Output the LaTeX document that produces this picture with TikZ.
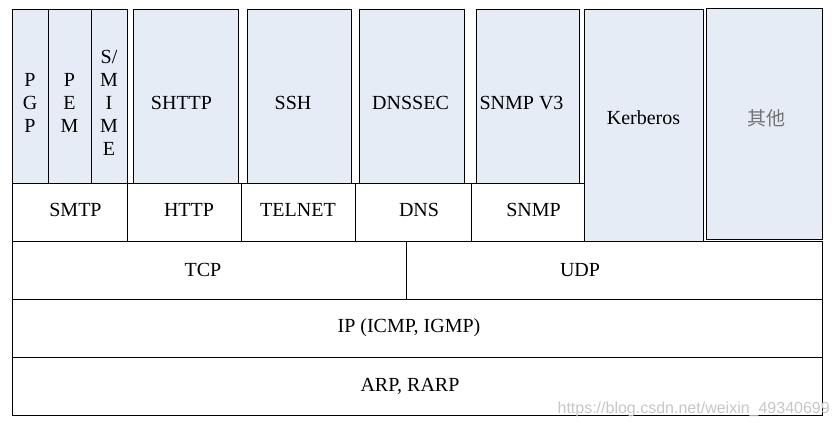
\documentclass[tikz,border=0pt]{standalone}
\usepackage{fontspec}
\setmainfont{Liberation Serif}
\newfontfamily\cjk{Noto Sans CJK SC}
\newfontfamily\wmfont{Liberation Sans}
\usepackage{xcolor}
\usepackage{tikz}
\usetikzlibrary{positioning}
\definecolor{secfill}{RGB}{230,236,246}
\newcommand{\layerfont}{\fontsize{20}{23}\selectfont}
\tikzset{
  sec/.style={
    rectangle,
    draw=black,
    fill=secfill,
    line width=0.9pt,
    inner sep=0pt,
    outer sep=0pt,
    anchor=north west,
    minimum height=174pt
  },
  layer/.style={
    rectangle,
    draw=black,
    fill=white,
    line width=0.9pt,
    inner sep=0pt,
    outer sep=0pt,
    anchor=north west,
    minimum height=58pt
  },
  txt/.style={
    font=\layerfont,
    align=center,
    inner sep=0pt
  }
}

\begin{document}
\begin{tikzpicture}[x=1pt, y=-1pt]
  \useasboundingbox (0,0) rectangle (838,427);

  % bottom layers
  \node[layer, minimum width=810pt, label={[txt, name=arp-t, xshift=-7pt]center:ARP, RARP}] (arp) at (12,357) {};
  \node[layer, minimum width=810pt, label={[txt, name=ip-t, xshift=-8pt]center:IP (ICMP, IGMP)}] (ip) at (12,299) {};
  \node[layer, minimum width=394pt, label={[txt, name=tcp-t, xshift=-6pt]center:TCP}] (tcp) at (12,241) {};
  \node[layer, minimum width=416pt, right=0pt of tcp, label={[txt, name=udp-t, xshift=-34pt]center:UDP}] (udp) {};

  % application layer
  \node[layer, minimum width=115pt, label={[txt, name=smtp-t, shift={(6pt,2pt)}]center:SMTP}] (smtp) at (12,183) {};
  \node[layer, minimum width=114pt, right=0pt of smtp, label={[txt, name=http-t, shift={(5pt,2pt)}]center:HTTP}] (http) {};
  \node[layer, minimum width=114pt, right=0pt of http, label={[txt, name=telnet-t, yshift=2pt]center:TELNET}] (telnet) {};
  \node[layer, minimum width=116pt, right=0pt of telnet, label={[txt, name=dns-t, shift={(6pt,2pt)}]center:DNS}] (dns) {};
  \node[layer, minimum width=113pt, right=0pt of dns, label={[txt, name=snmp-t, shift={(6pt,2pt)}]center:SNMP}] (snmp) {};

  % security protocols
  \node[sec, minimum width=36pt, label={[txt, name=pgp-t, yshift=-7pt]center:{P\\G\\P}}] (pgp) at (12,9) {};
  \node[sec, minimum width=43pt, right=0pt of pgp, label={[txt, name=pem-t, yshift=-7pt]center:{P\\E\\M}}] (pem) {};
  \node[sec, minimum width=36pt, right=0pt of pem, label={[txt, name=smime-t, yshift=-7pt]center:{S/\\M\\I\\M\\E}}] (smime) {};
  \node[sec, minimum width=105pt, label={[txt, name=shttp-t, shift={(-4pt,-7pt)}]center:SHTTP}] (shttp) at (133,9) {};
  \node[sec, minimum width=104pt, label={[txt, name=ssh-t, shift={(-6pt,-7pt)}]center:SSH}] (ssh) at (247,9) {};
  \node[sec, minimum width=105pt, label={[txt, name=dnssec-t, shift={(-1pt,-7pt)}]center:DNSSEC}] (dnssec) at (359,9) {};
  \node[sec, minimum width=103pt, label={[txt, name=snmpv3-t, shift={(-6pt,-7pt)}]center:SNMP V3}] (snmpv3) at (476,9) {};
  \node[sec, minimum width=119pt, minimum height=232pt, label={[txt, name=kerberos-t, yshift=7pt]center:Kerberos}] (kerberos) at (584,9) {};
  \node[sec, minimum width=116pt, minimum height=231pt, label={[txt, name=other-t, shift={(2pt,5pt)}, text=black!55, font=\cjk\fontsize{19}{23}\selectfont]center:其他}] (other) at (706,8) {};

  \node[anchor=east, inner sep=0pt, text=black!22, font=\wmfont\fontsize{16}{18}\selectfont] (watermark) at (830,409) {https://blog.csdn.net/weixin\_49340699};
\end{tikzpicture}
\end{document}
